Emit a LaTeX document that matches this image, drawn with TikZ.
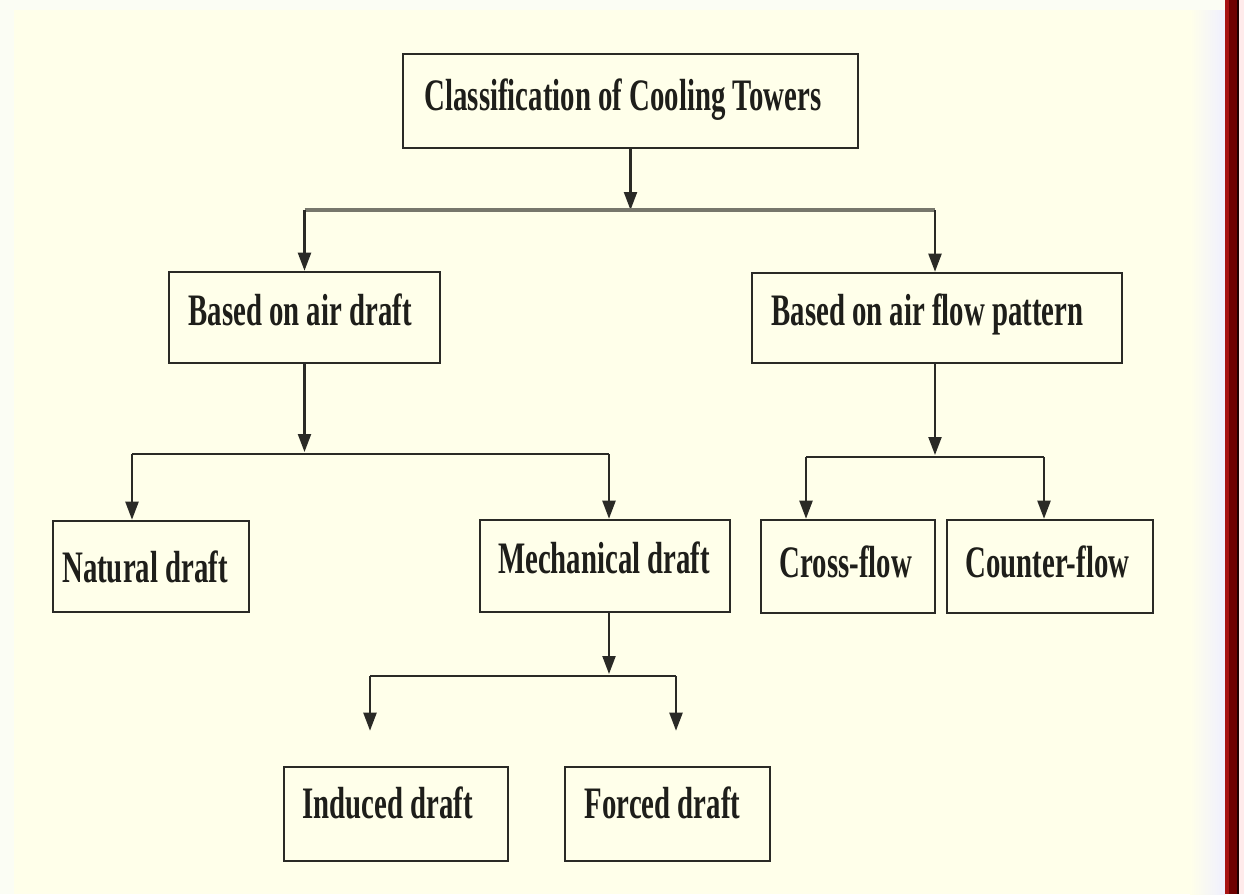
\documentclass[tikz,border=0pt]{standalone}
\usepackage{fontspec}
\setmainfont{Liberation Serif}
\usetikzlibrary{arrows.meta}

\definecolor{cream}{HTML}{FFFFEA}
\definecolor{paleedge}{HTML}{FBFDF4}
\definecolor{barred}{HTML}{6E0000}
\definecolor{barlight}{HTML}{A81414}
\definecolor{inkline}{HTML}{2A2A26}
\definecolor{busgray}{HTML}{77776C}
\definecolor{inktext}{HTML}{1E1E1A}

% condensed bold label; optional argument pushes the text left
\newcommand\bt[2][0]{\scalebox{0.64}[1]{#2}\hspace*{#1pt}}

\tikzset{
  box/.style={draw=inkline, line width=2.6pt, fill=cream, inner sep=0pt,
    minimum width=#1, text=inktext, text height=32pt,
    font=\fontsize{45}{45}\selectfont\bfseries},
  dep/.style={text depth=#1},
  conn/.style={draw=inkline, line width=2.2pt},
  arr/.style={conn, -{Triangle[width=13pt,length=18pt]}},
  bus/.style={draw=busgray, line width=3.4pt}
}

\begin{document}
\begin{tikzpicture}[x=1pt,y=-1pt]
  \useasboundingbox (0,0) rectangle (1244,894);

  % page background with its side strip
  \fill[cream] (0,0) rectangle (1244,894);
  \fill[paleedge] (0,0) rectangle (14,894);
  \fill[paleedge] (0,0) rectangle (1244,10);
  \shade[left color=cream, right color=white!94!blue] (1190,10) rectangle (1225,894);
  \fill[white!92!red] (1239,0) rectangle (1244,894);
  \fill[barred] (1225,0) rectangle (1239,894);
  \fill[barlight] (1225,0) rectangle (1228.5,894);
  \fill[black!70!barred] (1236.5,0) rectangle (1239,894);

  % boxes
  \node[box=455pt, minimum height=94pt, dep=14pt] (top) at (630.5,101)
    {\bt[15]{Classification of Cooling Towers}};
  \node[box=271pt, minimum height=91pt, dep=17pt] (draft) at (304.5,317.5)
    {\bt[9]{Based on air draft}};
  \node[box=370pt, minimum height=90pt, dep=18pt] (flow) at (937,318)
    {\bt[19]{Based on air flow pattern}};
  \node[box=196pt, minimum height=91pt, dep=0pt] (natural) at (151,566.5)
    {\bt[12]{Natural draft}};
  \node[box=250pt, minimum height=92pt, dep=18pt] (mech) at (605,566)
    {\bt[2]{Mechanical draft}};
  \node[box=174pt, minimum height=93pt, dep=11pt] (cross) at (848,566.5)
    {\bt[4]{Cross-flow}};
  \node[box=206pt, minimum height=93pt, dep=11pt] (counter) at (1050,566.5)
    {\bt[5]{Counter-flow}};
  \node[box=224pt, minimum height=94pt, dep=24pt] (induced) at (396,814)
    {\bt[17]{Induced draft}};
  \node[box=205pt, minimum height=94pt, dep=24pt] (forced) at (667.5,814)
    {\bt[10]{Forced draft}};

  % junction levels of the branch lines
  \coordinate (busA) at (0,210);
  \coordinate (busB) at (0,454);
  \coordinate (busC) at (0,457);
  \coordinate (busD) at (0,676);

  % first split: air draft / air flow pattern
  \draw[arr] (top.south) -- (top.south |- busA);
  \draw[bus] (draft.north |- busA) -- ([xshift=-2pt]flow.north |- busA);
  \draw[arr] (draft.north |- busA) -- (draft.north);
  \draw[arr] ([xshift=-2pt]flow.north |- busA) -- ([xshift=-2pt]flow.north);

  % air draft: natural / mechanical
  \draw[arr] (draft.south) -- ([yshift=2pt]draft.south |- busB);
  \draw[conn] ([xshift=-19pt]natural.north |- busB) -- ([xshift=4pt]mech.north |- busB);
  \draw[arr] ([xshift=-19pt]natural.north |- busB) -- ([xshift=-19pt]natural.north);
  \draw[arr] ([xshift=4pt]mech.north |- busB) -- ([xshift=4pt]mech.north);

  % air flow pattern: cross-flow / counter-flow
  \draw[arr] ([xshift=-2pt]flow.south) -- ([xshift=-2pt,yshift=2pt]flow.south |- busC);
  \draw[conn] ([xshift=-42pt]cross.north |- busC) -- ([xshift=-6pt]counter.north |- busC);
  \draw[arr] ([xshift=-42pt]cross.north |- busC) -- ([xshift=-42pt]cross.north);
  \draw[arr] ([xshift=-6pt]counter.north |- busC) -- ([xshift=-6pt]counter.north);

  % mechanical draft: induced / forced
  \draw[arr] ([xshift=4pt]mech.south) -- ([xshift=4pt,yshift=2pt]mech.south |- busD);
  \draw[conn] ([xshift=-26pt]induced.north |- busD) -- ([xshift=8.5pt]forced.north |- busD);
  \draw[arr] ([xshift=-26pt]induced.north |- busD) -- ([xshift=-26pt,yshift=35pt]induced.north);
  \draw[arr] ([xshift=8.5pt]forced.north |- busD) -- ([xshift=8.5pt,yshift=35pt]forced.north);
\end{tikzpicture}
\end{document}
